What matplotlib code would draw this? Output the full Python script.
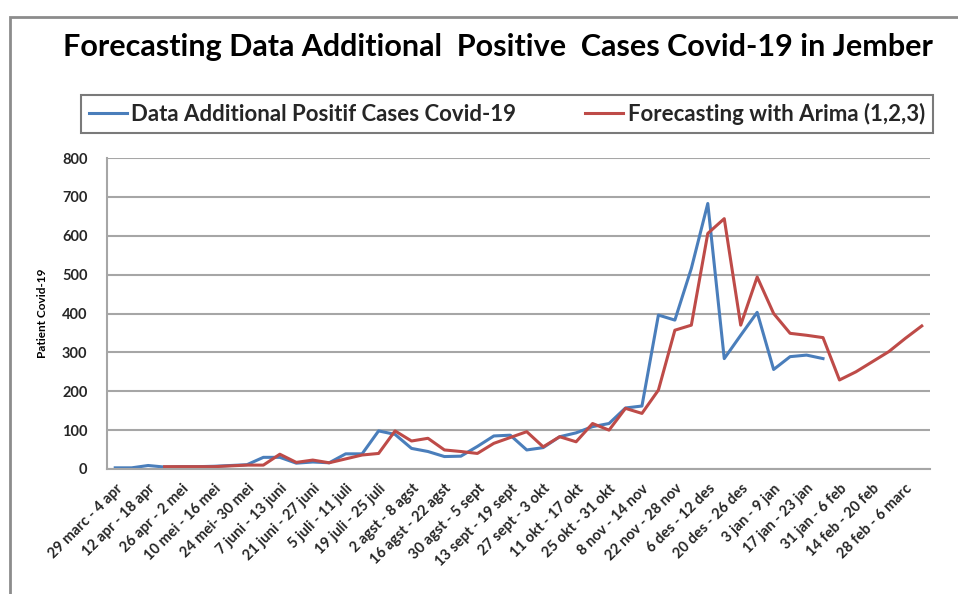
import numpy as np
import matplotlib.pyplot as plt
from matplotlib.patches import Rectangle

# weekly periods (label shown every second week)
tick_labels = [
    "29 marc - 4 apr", "12 apr - 18 apr", "26 apr - 2 mei", "10 mei - 16 mei",
    "24 mei- 30 mei", "7 juni - 13 juni", "21 juni - 27 juni", "5 juli - 11 juli",
    "19 juli - 25 juli", "2 agst - 8 agst", "16 agst - 22 agst", "30 agst - 5 sept",
    "13 sept - 19 sept", "27 sept - 3 okt", "11 okt - 17 okt", "25 okt - 31 okt",
    "8 nov - 14 nov", "22 nov - 28 nov", "6 des - 12 des", "20 des - 26 des",
    "3 jan - 9 jan", "17 jan - 23 jan", "31 jan - 6 feb", "14 feb - 20 feb",
    "28 feb - 6 marc",
]

# data additional positive cases (weeks 0..43)
actual = [3, 3, 9, 5, 6, 6, 7, 9, 11, 30,
          30, 15, 18, 16, 39, 39, 98, 89, 53, 45,
          32, 33, 58, 85, 87, 49, 55, 83, 93, 109,
          117, 157, 162, 396, 383, 516, 683, 284, 344, 403,
          256, 289, 293, 284]

# arima (1,2,3) forecast (weeks 3..49)
forecast = [6, 6, 6, 6, 8, 10, 10, 38, 17, 23,
            16, 26, 36, 40, 98, 72, 79, 49, 45, 40,
            66, 81, 96, 57, 83, 70, 117, 100, 156, 143,
            203, 357, 370, 606, 644, 370, 494, 400, 349, 344,
            338, 229, 250, 276, 302, 336, 368]
forecast_start = 3

fnt = "Lato"
txt_col = "#262626"

fig = plt.figure(figsize=(9.58, 5.94), dpi=100)

# chart area border (cropped screenshot, only left/top visible)
fig.patches.append(Rectangle((10 / 958, -0.1), 1.2, 1 - 17 / 594 + 0.1,
                             transform=fig.transFigure, fill=False,
                             edgecolor="#8c8c8c", linewidth=2))

ax = fig.add_axes([107 / 958, 1 - 469 / 594, 823 / 958, 311 / 594])

x_act = np.arange(len(actual))
x_fc = np.arange(forecast_start, forecast_start + len(forecast))

l1, = ax.plot(x_act, actual, color="#4a7ebb", linewidth=2.2,
              label="Data Additional Positif Cases Covid-19")
l2, = ax.plot(x_fc, forecast, color="#be4b48", linewidth=2.2,
              label="Forecasting with Arima (1,2,3)")

ax.set_xlim(-0.5, 49.5)
ax.set_ylim(0, 800)
ax.set_yticks(range(0, 801, 100))
ax.set_xticks(np.arange(0, 2 * len(tick_labels), 2))
ax.set_xticklabels(tick_labels, rotation=45, ha="right", rotation_mode="anchor",
                   fontsize=10.5, fontweight="bold", color=txt_col, family=fnt)
for lab in ax.get_yticklabels():
    lab.set_fontsize(10.5)
    lab.set_color(txt_col)
    lab.set_family(fnt)
    lab.set_fontweight("bold")
ax.tick_params(axis="x", length=0, pad=9)
ax.tick_params(axis="y", length=0, pad=14)

ax.grid(axis="y", color="#a6a6a6", linewidth=1.5)
ax.set_axisbelow(True)
for s in ["top", "right"]:
    ax.spines[s].set_visible(False)
for s in ["left", "bottom"]:
    ax.spines[s].set_color("#a6a6a6")
    ax.spines[s].set_linewidth(1.5)

fig.text(43 / 958, 1 - 313 / 594, "Patient Covid-19", rotation=90,
         ha="center", va="center", fontsize=8.5, fontweight="bold",
         color="black", family=fnt)

fig.text(498 / 958, 1 - 47 / 594,
         "Forecasting Data Additional  Positive  Cases Covid-19 in Jember",
         ha="center", va="center", fontsize=22, fontweight="bold",
         color="black", family=fnt)

leg = fig.legend(handles=[l1, l2], loc="center",
                 bbox_to_anchor=(507 / 958, 1 - 114 / 594),
                 ncol=2, frameon=True, fancybox=False,
                 edgecolor="#595959", handlelength=1.7, handletextpad=0.2,
                 columnspacing=3.1, borderpad=0.35, borderaxespad=0,
                 prop={"family": fnt, "size": 16, "weight": "bold"})
leg.get_frame().set_linewidth(1.5)
for t in leg.get_texts():
    t.set_color(txt_col)

fig.savefig("out.png", dpi=100)
